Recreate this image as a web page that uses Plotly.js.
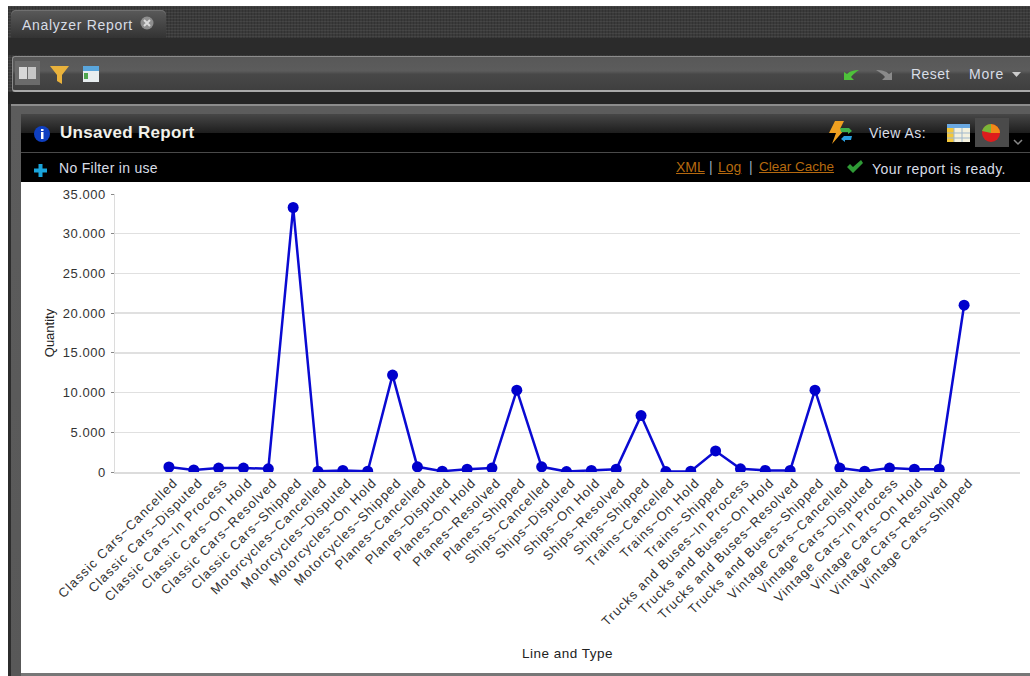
<!DOCTYPE html>
<html>
<head>
<meta charset="utf-8">
<script src="https://cdn.plot.ly/plotly-3.0.1.min.js"></script>
<style>
  html, body { margin: 0; padding: 0; background: #fff; }
  body { width: 1030px; height: 676px; overflow: hidden; position: relative; font-family: "Liberation Sans", Arial, sans-serif; }
  .abs { position: absolute; }
  .txt { position: absolute; color: #d8dde6; font-size: 14px; letter-spacing: .45px; white-space: nowrap; line-height: 16px; }
  #shell { left: 8px; top: 6px; width: 1022px; height: 670px; background:
    repeating-linear-gradient(0deg, rgba(255,255,255,.06) 0 1px, transparent 1px 3px),
    repeating-linear-gradient(90deg, rgba(0,0,0,.14) 0 1px, transparent 1px 3px), #3a3a3a; }
  #tabband { left: 8px; top: 38px; width: 1022px; height: 17px; background: #2b2b2b; }
  #tab { left: 11px; top: 10px; width: 155px; height: 28px; border-radius: 5px 5px 0 0; background: linear-gradient(#5a5a5a, #333); box-shadow: inset 0 1px 0 #707070; }
  #toolbar { left: 12px; top: 56px; width: 1018px; height: 33px; border: 1px solid #8c8c8c; border-bottom: 2px solid #a8a8a8; border-right: 0; border-radius: 3px 0 0 3px; background: linear-gradient(#585858 0, #5c5c5c 42%, #484848 52%, #3f3f3f 100%); }
  #gap { left: 8px; top: 92px; width: 1022px; height: 12px; background: #242424; }
  #panel { left: 11px; top: 104px; width: 1019px; height: 572px; border-top: 2px solid #8c8c8c; background: linear-gradient(#5c5c5c, #585858); }
  #panelstrip { left: 8px; top: 104px; width: 3px; height: 572px; background: #2c2c2c; }
  #head { left: 21px; top: 114px; width: 1009px; height: 19px; background: linear-gradient(#474747, #1d1d1d); }
  #head2 { left: 21px; top: 133px; width: 1009px; height: 49px; background: #000; }
  #headline { left: 21px; top: 152px; width: 1009px; height: 1px; background: #4a4a4a; }
  #plotbox { left: 21px; top: 182px; width: 1009px; height: 491px; background: #fff; }
  #foot { left: 21px; top: 673px; width: 1009px; height: 3px; background: #777; }
  .link { color: #b5690f; text-decoration: underline; letter-spacing: 0; }
  /* the old renderer spaces rotated labels widely */
  #chart .xtick text { letter-spacing: 1.1px; }
  #chart .ytick text { letter-spacing: .55px; }
  #chart .xtitle { letter-spacing: .5px; }
</style>
</head>
<body>
<div class="abs" id="shell"></div>
<div class="abs" id="tabband"></div>
<div class="abs" id="tab"></div>
<div class="txt" style="left:22px;top:17px;letter-spacing:.7px;">Analyzer Report</div>
<svg class="abs" style="left:139px;top:15px" width="16" height="16"><circle cx="8" cy="8" r="6.500" fill="#8e8e8e"/><path d="M5 5l6 6M11 5l-6 6" stroke="#dcdcdc" stroke-width="2"/></svg>

<div class="abs" id="toolbar"></div>
<svg class="abs" style="left:15px;top:60px" width="90" height="26">
  <rect x="0" y="1" width="25" height="24" fill="#6b6b6b"/>
  <rect x="4" y="7" width="8" height="12" fill="#d8d8d8"/><rect x="13" y="7" width="8" height="12" fill="#c6c6c6"/>
  <path d="M35 6h19l-7 9v9l-5-3v-6z" fill="#e9b23c"/>
  <rect x="68" y="6" width="16" height="16" fill="#e8eef0"/><rect x="68" y="6" width="16" height="5" fill="#5aa6dc"/><rect x="69" y="13" width="4" height="6" fill="#4fa64f"/>
</svg>
<svg class="abs" style="left:842px;top:65px" width="54" height="16">
  <path d="M2 15V7l3 2c3-3 7-4 12-4-3 2-6 4-8 7l3 3z" fill="#4ec23a"/>
  <path d="M50 15V7l-3 2c-3-3-7-4-13-4 3 2 7 4 9 7l-3 3z" fill="#8a8a8a"/>
</svg>
<div class="txt" style="left:911px;top:66px;">Reset</div>
<div class="txt" style="left:969px;top:66px;letter-spacing:.8px;">More</div>
<svg class="abs" style="left:1012px;top:72px" width="10" height="6"><path d="M0 0h9l-4.500 5z" fill="#ccc"/></svg>

<div class="abs" id="gap"></div>
<div class="abs" id="panel"></div>
<div class="abs" id="panelstrip"></div>
<div class="abs" id="head"></div>
<div class="abs" id="head2"></div>
<div class="abs" id="headline"></div>

<svg class="abs" style="left:33px;top:125px" width="18" height="18"><circle cx="9" cy="9" r="8" fill="#0f3fc0"/><rect x="8" y="7" width="2.500" height="7" fill="#fff"/><rect x="8" y="4" width="2.500" height="2" fill="#fff"/></svg>
<div class="txt" style="left:60px;top:125px;font-weight:bold;font-size:17px;letter-spacing:.3px;color:#f1f1ea;">Unsaved Report</div>
<svg class="abs" style="left:826px;top:120px" width="28" height="26">
  <path d="M9 1h9l-4 8h5L6 24l4-11H3z" fill="#f0a020"/>
  <path d="M14 8h9l3 3-4 3v-2h-7z" fill="#3fb24a"/><path d="M26 16h-8l-3 3 4 3v-2h6z" fill="#2a9fe0"/>
</svg>
<div class="txt" style="left:869px;top:125px;">View As:</div>
<svg class="abs" style="left:946px;top:123px" width="26" height="20"><rect x="1" y="1" width="23" height="18" fill="#f4f1de"/><rect x="1" y="1" width="23" height="4" fill="#6aa8e0"/><rect x="1" y="5" width="7" height="14" fill="#f4c83a"/><path d="M8 5v14M16 5v14M1 10h23M1 15h23" stroke="#9fb7cc" stroke-width="1"/></svg>
<svg class="abs" style="left:975px;top:118px" width="34" height="29"><rect width="34" height="29" fill="#4a4a4a"/><circle cx="16" cy="15" r="9" fill="#dd1c1c"/><path d="M16 15V6a9 9 0 0 1 9 9z" fill="#f08a18"/><path d="M16 15V6a9 9 0 0 0-9 7z" fill="#7ab638"/></svg>
<svg class="abs" style="left:1013px;top:139px" width="10" height="7"><path d="M1 1l4 4 4-4" stroke="#888" stroke-width="1.500" fill="none"/></svg>

<svg class="abs" style="left:33px;top:163px" width="15" height="15"><path d="M5.500 1h4v4.500H14v4H9.500V14h-4V9.500H1v-4h4.500z" fill="#1aa5dc"/></svg>
<div class="txt" style="left:59px;top:160px;letter-spacing:.3px;">No Filter in use</div>
<div class="txt link" style="left:676px;top:159px;">XML</div>
<div class="txt" style="left:709px;top:159px;color:#9ab;">|</div>
<div class="txt link" style="left:718px;top:159px;">Log</div>
<div class="txt" style="left:749px;top:159px;color:#9ab;">|</div>
<div class="txt link" style="left:759px;top:159px;font-size:13.500px;">Clear Cache</div>
<svg class="abs" style="left:846px;top:159px" width="18" height="15"><path d="M1 8l3-3 3 3 8-7 2 3-10 10z" fill="#2f9a36"/></svg>
<div class="txt" style="left:872px;top:161px;">Your report is ready.</div>

<div class="abs" id="plotbox"><div id="chart" style="width:1009px;height:491px"></div></div>
<div class="abs" id="foot"></div>

<script>
// Quantity per product line and order status.
const categories = [
  "Classic Cars~Cancelled", "Classic Cars~Disputed", "Classic Cars~In Process", "Classic Cars~On Hold", "Classic Cars~Resolved", "Classic Cars~Shipped",
  "Motorcycles~Cancelled", "Motorcycles~Disputed", "Motorcycles~On Hold", "Motorcycles~Shipped",
  "Planes~Cancelled", "Planes~Disputed", "Planes~On Hold", "Planes~Resolved", "Planes~Shipped",
  "Ships~Cancelled", "Ships~Disputed", "Ships~On Hold", "Ships~Resolved", "Ships~Shipped",
  "Trains~Cancelled", "Trains~On Hold", "Trains~Shipped",
  "Trucks and Buses~In Process", "Trucks and Buses~On Hold", "Trucks and Buses~Resolved", "Trucks and Buses~Shipped",
  "Vintage Cars~Cancelled", "Vintage Cars~Disputed", "Vintage Cars~In Process", "Vintage Cars~On Hold", "Vintage Cars~Resolved", "Vintage Cars~Shipped"
];
const quantity = [
  630, 250, 500, 500, 400, 33300,
  80, 200, 100, 12200,
  650, 100, 350, 500, 10300,
  650, 60, 200, 350, 7100,
  60, 100, 2650,
  400, 200, 200, 10300,
  500, 100, 500, 350, 350, 21000
];
const yTicks = [0, 5000, 10000, 15000, 20000, 25000, 30000, 35000];

Plotly.newPlot("chart", [{
  type: "scatter",
  mode: "lines+markers",
  x: categories,
  y: quantity,
  line: { color: "#0a0ad2", width: 2.5 },
  marker: { color: "#0000cc", size: 11 },
  cliponaxis: true,
  hoverinfo: "x+y"
}], {
  width: 1009,
  height: 491,
  margin: { l: 94, r: 10, t: 12, b: 201, pad: 0 },
  paper_bgcolor: "#ffffff",
  plot_bgcolor: "#ffffff",
  separators: ",.",
  showlegend: false,
  font: { family: "Liberation Sans, Arial, sans-serif", color: "#222", size: 12 },
  xaxis: {
    type: "category",
    categoryorder: "array",
    categoryarray: categories,
    range: [-2.17, 34.25],
    tickangle: -45,
    tickmode: "linear",
    dtick: 1,
    ticks: "",
    ticklabelshift: 5,
    ticklabelstandoff: -4,
    showgrid: false,
    showline: true,
    linecolor: "#dcdcdc",
    linewidth: 2,
    tickfont: { size: 13, color: "#333" },
    title: { text: "Line and Type", font: { size: 13.5, color: "#222" }, standoff: 42 }
  },
  yaxis: {
    range: [0, 35000],
    tickmode: "array",
    tickvals: yTicks,
    tickformat: ",d",
    ticks: "outside",
    ticklen: 3,
    tickcolor: "#888",
    ticklabelstandoff: 2,
    showgrid: true,
    gridcolor: "#e0e0e0",
    gridwidth: 1.5,
    zeroline: false,
    showline: true,
    linecolor: "#dcdcdc",
    linewidth: 1.5,
    tickfont: { size: 13, color: "#333" },
    title: { text: "Quantity", font: { size: 13, color: "#222" }, standoff: 8 }
  }
}, { displayModeBar: false, staticPlot: true });
</script>
</body>
</html>
